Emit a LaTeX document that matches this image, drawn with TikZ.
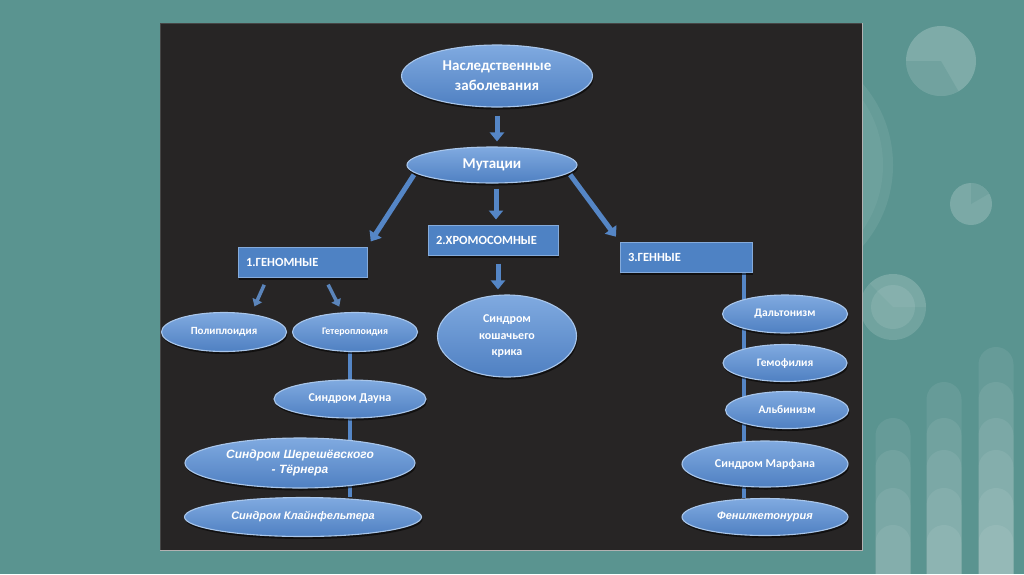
\documentclass[tikz,border=0pt]{standalone}
\usepackage{fontspec}
\setmainfont{Carlito}
\newfontfamily\itfont{Liberation Sans}
\usetikzlibrary{shapes.geometric,arrows.meta,shadows,calc}
\definecolor{teal0}{HTML}{5A9490}
\definecolor{board}{HTML}{272525}
\definecolor{eltop}{HTML}{80AAE0}
\definecolor{elbot}{HTML}{4F80C2}
\definecolor{elrim}{HTML}{A9C6EA}
\definecolor{arr}{HTML}{5586C6}
\definecolor{boxc}{HTML}{4E82C4}
\pgfdeclarelayer{bottom}
\pgfdeclarelayer{background}
\pgfsetlayers{bottom,background,main}
\tikzset{
  ell/.style={ellipse, draw=elrim, line width=1.1pt, top color=eltop, bottom color=elbot,
    text=white, inner sep=0pt, align=center,
    drop shadow={shadow xshift=1pt, shadow yshift=-2.5pt, fill=black, opacity=0.55}},
  bx/.style={rectangle, draw=elrim!60!boxc, line width=1pt, fill=boxc, text=white,
    font=\bfseries\fontsize{12.5}{15}\selectfont, inner xsep=8pt, minimum height=30pt, align=left,
    drop shadow={shadow xshift=1pt, shadow yshift=-2.5pt, fill=black, opacity=0.55}},
  barrow/.style={draw=arr, line width=5pt, -{Triangle[width=14pt,length=9pt]}},
  sarrow/.style={draw=arr!85!gray, line width=3.5pt, -{Triangle[width=10pt,length=7pt]}},
  conn/.style={draw=arr, line width=4pt},
  deco/.style={fill=white, opacity=0.16},
  pill/.style={fill=white, opacity=0.075}
}
\newcommand\bfz[1]{\bfseries\fontsize{#1}{#1}\selectfont}
\begin{document}
\begin{tikzpicture}[x=1pt,y=-1pt]
\begin{pgfonlayer}{bottom}
\fill[teal0] (0,0) rectangle (1024,574);
% decorations
\fill[deco, opacity=0.08] (769,165) circle[radius=124];
\fill[deco, opacity=0.05] (769,165) circle[radius=114];
\fill[deco, opacity=0.22] (941,61) circle[radius=35];
\fill[teal0, opacity=0.35] (941,61) -- +(180:35) arc[start angle=180, end angle=60, radius=35] -- cycle;
\fill[deco, opacity=0.2] (971,204) circle[radius=21];
\fill[teal0, opacity=0.3] (971,204) -- +(-90:21) arc[start angle=-90, end angle=-30, radius=21] -- cycle;
\fill[deco, opacity=0.14] (893,307) circle[radius=33];
\fill[deco, opacity=0.1] (893,307) circle[radius=22];
\fill[deco, opacity=0.06] (893,307) -- +(0:33) arc[start angle=0, end angle=-135, radius=33] -- cycle;
\foreach \cx/\levels in {893/{418,450,488,525}, 944/{382,418,450,488,525}, 996/{347,382,418,450,488,525}}{
  \foreach \L in \levels {
    \fill[pill] (\cx-17.5,574) -- (\cx-17.5,\L+17.5) arc[start angle=180, end angle=360, radius=17.5] -- (\cx+17.5,574) -- cycle;
  }
}
% board
\fill[board] (160,23) rectangle (862,550);
\draw[gray!55!black, line width=1pt] (160,23) rectangle (862,550);
\draw[gray!60, line width=0.6pt] (160,550) -- (862,550) -- (862,23);
\end{pgfonlayer}

% nodes
\node[ell, minimum width=191pt, minimum height=62pt, font=\bfz{15}] (nasl) at (497,76) {Наследственные\\[5pt]заболевания};
\node[ell, minimum width=170pt, minimum height=36pt, font=\bfz{15}] (mut) at (492,165) {Мутации};
\node[bx, text width=113pt] (g1) at (302.5,262) {1.ГЕНОМНЫЕ};
\node[bx, text width=114pt] (g2) at (493,240) {2.ХРОМОСОМНЫЕ};
\node[bx, text width=116pt] (g3) at (686,257) {3.ГЕННЫЕ};
\node[ell, minimum width=125pt, minimum height=39pt, font=\bfz{11}] (poly) at (224,332) {Полиплоидия};
\node[ell, minimum width=125pt, minimum height=39pt, font=\bfz{10}] (het) at (355,332) {Гетероплоидия};
\node[ell, minimum width=152pt, minimum height=38pt, font=\bfz{12}] (daun) at (350,399) {Синдром Дауна};
\node[ell, minimum width=230pt, minimum height=50pt, font=\itfont\bfseries\itshape\fontsize{12}{15}\selectfont] (shere) at (300,463) {Синдром Шерешёвского\\- Тёрнера};
\node[ell, minimum width=237pt, minimum height=39pt, font=\itfont\bfseries\itshape\fontsize{11}{13}\selectfont] (klein) at (303,517) {Синдром Клайнфельтера};
\node[ell, minimum width=139pt, minimum height=82pt, font=\bfseries\fontsize{12}{16.5}\selectfont] (cat) at (507,336) {Синдром\\кошачьего\\крика};
\node[ell, minimum width=125pt, minimum height=38pt, font=\bfz{11.5}] (dalt) at (785,314) {Дальтонизм};
\node[ell, minimum width=124pt, minimum height=37pt, font=\bfz{11.5}] (gemo) at (785,363) {Гемофилия};
\node[ell, minimum width=123pt, minimum height=37pt, font=\bfz{11.5}] (albi) at (787,410) {Альбинизм};
\node[ell, minimum width=166pt, minimum height=46pt, font=\bfz{12}] (marf) at (765,464) {Синдром Марфана};
\node[ell, minimum width=166pt, minimum height=37pt, font=\itfont\bfseries\itshape\fontsize{11}{13}\selectfont] (fenil) at (765,517) {Фенилкетонурия};

\coordinate (gl) at (350,300);
\coordinate (gc) at (744,300);
\begin{pgfonlayer}{background}
\draw[conn] (het.south -| gl) -- (klein.north -| gl);
\draw[conn] (g3.south -| gc) -- (fenil.north -| gc);
\end{pgfonlayer}

% arrows
\draw[barrow, shorten <=8pt, shorten >=5pt] (nasl.south) -- (nasl.south |- mut.north);
\draw[barrow, shorten <=5pt, shorten >=5pt] ([xshift=4pt]mut.south) -- ([xshift=4pt]mut.south |- g2.north);
\draw[barrow, shorten <=2pt, shorten >=6pt] (mut.186) -- (g1.north east);
\draw[barrow, shorten <=2pt, shorten >=6pt] (mut.354) -- (g3.north west);
\draw[barrow, shorten <=8pt, shorten >=5pt] ([xshift=5pt]g2.south) -- ([xshift=5pt]g2.south |- cat.north);
\draw[sarrow, shorten <=8pt, shorten >=6pt] ($(g1.south west)+(30,0)$) -- ($(poly.north)+(28,0)$);
\draw[sarrow, shorten <=8pt, shorten >=6pt] ($(g1.south west)+(87,0)$) -- ($(het.north)+(-13,0)$);
\end{tikzpicture}
\end{document}
